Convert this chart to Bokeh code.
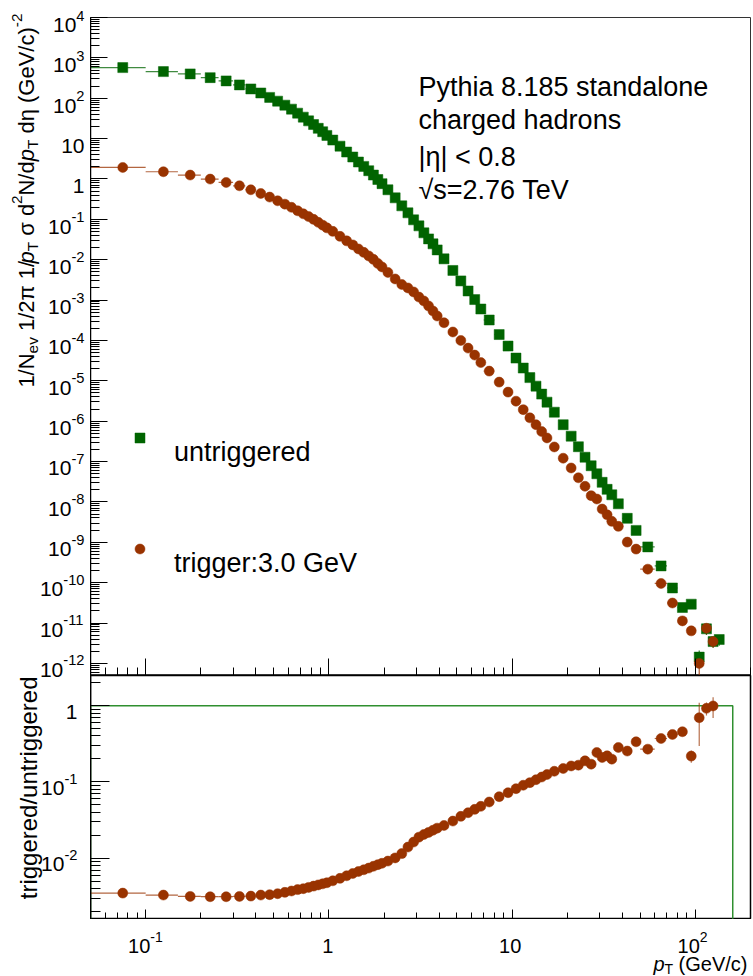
import math
from bokeh.plotting import figure
from bokeh.layouts import column, row
from bokeh.models import FixedTicker, Label, Legend, LegendItem, Range1d, CustomJSTickFormatter
from bokeh.embed import file_html
from bokeh.resources import INLINE

# ---------------- data ----------------
pt_edges = [0.05, 0.1, 0.15, 0.2, 0.25, 0.3, 0.35, 0.4, 0.45, 0.5, 0.55, 0.6, 0.65, 0.7, 0.75,
            0.8, 0.85, 0.9, 0.95, 1.0,
            1.1, 1.2, 1.3, 1.4, 1.5, 1.6, 1.7, 1.8, 1.9, 2.0,
            2.2, 2.4, 2.6, 2.8, 3.0, 3.2, 3.4, 3.6, 3.8, 4.0,
            4.5, 5.0, 5.5, 6.0, 6.5, 7.0,
            8, 9, 10, 11, 12, 13, 14, 15, 16,
            18, 20, 22, 24, 26, 28, 30, 32, 34, 36,
            40, 45, 50,
            60, 70, 80, 90, 100, 110, 120, 130, 140]

untriggered = [574, 457, 401, 324, 269, 214, 170, 135, 105, 84.7, 67.4, 53.7, 42.7, 34.0, 27.5,
               22.3, 18.0, 14.8, 12.0,
               9.2, 6.5, 4.65, 3.5, 2.63, 2.05, 1.6, 1.25, 0.97, 0.765,
               0.540, 0.341, 0.216, 0.145, 0.0972, 0.0690, 0.0463, 0.0328, 0.0247, 0.0175,
               0.0105, 0.00542, 0.00298, 0.00168, 0.00103, 6.01e-4,
               3.21e-4, 1.40e-4, 7.26e-5, 3.66e-5, 2.07e-5, 1.20e-5, 7.38e-6, 4.68e-6, 2.96e-6,
               1.67e-6, 8.18e-7, 4.25e-7, 2.33e-7, 1.28e-7, 7.87e-8, 4.98e-8, 3.06e-8, 2.05e-8, 1.50e-8,
               8.97e-9, 3.92e-9, 1.97e-9,
               7.69e-10, 2.60e-10, 7.38e-11, 2.42e-11, 2.93e-11, 1.43e-12, 7.18e-12, 3.47e-12, 3.90e-12]

triggered = [1.93, 1.51, 1.25, 0.994, 0.819, 0.678, 0.540, 0.437, 0.356, 0.288, 0.238, 0.199, 0.163,
             0.137, 0.117, 0.100, 0.0843, 0.0718, 0.0615,
             0.0504, 0.0379, 0.0293, 0.0233, 0.0185, 0.0152, 0.0124, 0.0102, 0.00809, 0.00662,
             0.00484, 0.00334, 0.00244, 0.00200, 0.00159, 0.00119, 9.50e-4, 7.14e-4, 5.37e-4, 4.03e-4,
             2.75e-4, 1.62e-4, 1.00e-4, 6.47e-5, 4.34e-5, 2.83e-5,
             1.74e-5, 9.29e-6, 5.25e-6, 3.13e-6, 1.93e-6, 1.21e-6, 8.19e-7, 5.55e-7, 3.85e-7,
             2.30e-7, 1.21e-7, 6.94e-8, 3.96e-8, 2.44e-8, 1.43e-8, 1.18e-8, 6.67e-9, 4.79e-9, 3.30e-9,
             2.48e-9, 1.01e-9, 6.78e-10,
             2.16e-10, 9.55e-11, 3.13e-11, 1.13e-11, 6.40e-12, 1.00e-12, 7.43e-12, 3.47e-12]

ratio = [3.49e-3, 3.29e-3, 3.16e-3, 3.13e-3, 3.13e-3, 3.16e-3, 3.19e-3, 3.29e-3, 3.33e-3, 3.43e-3,
         3.57e-3, 3.72e-3, 3.88e-3, 3.99e-3, 4.15e-3, 4.31e-3, 4.47e-3, 4.62e-3, 4.77e-3,
         5.06e-3, 5.45e-3, 5.89e-3, 6.31e-3, 6.70e-3, 7.06e-3, 7.43e-3, 7.85e-3, 8.24e-3, 8.59e-3,
         9.18e-3, 1.01e-2, 1.15e-2, 1.40e-2, 1.63e-2, 1.89e-2, 2.05e-2, 2.18e-2, 2.33e-2, 2.48e-2,
         2.69e-2, 3.07e-2, 3.54e-2, 3.95e-2, 4.37e-2, 4.79e-2,
         5.46e-2, 6.41e-2, 7.23e-2, 8.16e-2, 9.05e-2, 9.79e-2, 0.107, 0.116, 0.125,
         0.138, 0.150, 0.162, 0.166, 0.189, 0.171, 0.243, 0.209, 0.220, 0.199,
         0.283, 0.254, 0.336,
         0.269, 0.371, 0.419, 0.455, 0.218, 0.695, 0.922, 0.991]

# vertical error bars that are visible (high pT only)
untrig_err_pt = [85, 95, 105, 115, 125, 135]
untrig_err_rel = [0.10, 0.15, 0.45, 0.30, 0.30, 0.30]
trig_err_pt = [85, 95, 105, 115, 125]
trig_err_rel = [0.10, 0.15, 0.50, 0.30, 0.30]
ratio_err_pt = [85, 95, 105, 115, 125]
ratio_err = [0.025, 0.04, 0.40, 0.18, 0.30]

# reference histogram (untriggered / untriggered)
ref_edges = [0.05, 160.0]
ref_level = 1.0

# tick labels: (base, exponent)
top_y_ticks = [1e-12, 1e-11, 1e-10, 1e-9, 1e-8, 1e-7, 1e-6, 1e-5, 1e-4, 1e-3, 1e-2, 1e-1, 1, 10, 100, 1e3, 1e4]
top_y_labels = [("10", "-12"), ("10", "-11"), ("10", "-10"), ("10", "-9"), ("10", "-8"), ("10", "-7"),
                ("10", "-6"), ("10", "-5"), ("10", "-4"), ("10", "-3"), ("10", "-2"), ("10", "-1"),
                ("1", ""), ("10", ""), ("10", "2"), ("10", "3"), ("10", "4")]
x_ticks = [0.1, 1, 10, 100]
x_labels = [("10", "-1"), ("1", ""), ("10", ""), ("10", "2")]
ratio_y_ticks = [0.01, 0.1, 1]
ratio_y_labels = [("10", "-2"), ("10", "-1"), ("1", "")]

top_text = ["Pythia 8.185 standalone", "charged hadrons", "|η| < 0.8", "√s=2.76 TeV"]
legend_labels = ["untriggered", "trigger:3.0 GeV"]

# ---------------- style / geometry ----------------
FONT = "Liberation Sans"
GREEN = "#006400"
RED = "#993300"
REFGREEN = "#2f8f2f"

CW, CH = 753, 976           # canvas
LEFT = 90                    # width of the left label strip
FX0, FX1 = 90, 750           # frame x extent (canvas px)
TOP0, TOP1 = 17, 674         # top frame y extent
BOT0, BOT1 = 674, 917        # ratio frame y extent

W = {' ': .278, '!': .278, '(': .333, ')': .333, '-': .333, '.': .278, '/': .278, ':': .278,
     '<': .584, '=': .584, '|': .26, 'A': .667, 'G': .778, 'N': .722, 'P': .667, 'T': .611,
     'V': .667, 'a': .556, 'c': .5, 'd': .556, 'e': .556, 'g': .556, 'h': .556, 'i': .222,
     'l': .222, 'n': .556, 'o': .556, 'p': .556, 'r': .333, 's': .5, 't': .278, 'u': .556,
     'v': .5, 'y': .5, 'π': .57, 'σ': .6, 'η': .556, '√': .55}


def tw(s, size):
    return sum(W.get(c, 0.556) for c in s) * size


SCALE = {"": 1.0, "it": 1.0, "sub": 0.7, "sup": 0.7}
SHIFT = {"": 0.0, "it": 0.0, "sub": -0.28, "sup": 0.45}


def rich(fig, segs, ax, ay, dx, dy, size, align="left", rotate=False):
    """Mixed-style text at data anchor (ax, ay); (dx, dy) pixel shift (right, up) of the baseline."""
    widths = [tw(t, size * SCALE[k]) for t, k in segs]
    total = sum(widths)
    pos = {"left": 0.0, "center": -total / 2, "right": -total}[align]
    for (t, k), w in zip(segs, widths):
        fs = size * SCALE[k]
        lead = (len(t) - len(t.lstrip(" "))) * W[' '] * fs
        txt = t.strip(" ")
        along = pos + lead
        perp = SHIFT[k] * size
        if rotate:
            xo, yo, ang = dx - perp, dy + along, math.pi / 2
        else:
            xo, yo, ang = dx + along, dy + perp, 0.0
        if txt:
            fig.add_layout(Label(x=ax, y=ay, x_offset=xo, y_offset=yo, text=txt, angle=ang,
                                 text_font=FONT, text_font_size=f"{fs:.1f}px",
                                 text_font_style="italic" if k == "it" else "normal",
                                 text_align="left", text_baseline="alphabetic", text_color="black"))
        pos += w


def minor_list(lo_exp, hi_exp, lo, hi):
    out = []
    for e in range(lo_exp, hi_exp + 1):
        for m in range(2, 10):
            v = m * 10.0 ** e
            if lo <= v <= hi:
                out.append(v)
    return out


BLANK = CustomJSTickFormatter(code="return ' ';")


def style_axis(ax):
    ax.formatter = BLANK
    ax.major_label_text_font_size = "1px"
    ax.major_label_text_alpha = 0
    ax.major_label_standoff = 0
    ax.major_tick_out = 0
    ax.minor_tick_out = 0
    ax.axis_line_color = "black"
    ax.axis_line_width = 1.5
    ax.major_tick_line_color = "black"
    ax.minor_tick_line_color = "black"


def blank_fig(w, h, xr, yr):
    f = figure(width=w, height=h, x_range=Range1d(*xr), y_range=Range1d(*yr),
               x_axis_location=None, y_axis_location=None, output_backend="svg",
               toolbar_location=None, min_border=0, outline_line_color=None)
    f.grid.visible = False
    f.background_fill_color = "white"
    f.border_fill_color = "white"
    return f


centers = [(a + b) / 2 for a, b in zip(pt_edges[:-1], pt_edges[1:])]
lows = pt_edges[:-1]
highs = pt_edges[1:]

X0, X1 = 0.05, 200.0
Y0, Y1 = 10 ** -12.30, 1e4
R0, R1 = 10 ** -2.803, 10 ** 0.395


def cx(x):       # canvas x of a pT value
    return FX0 + (FX1 - FX0) * (math.log10(x) - math.log10(X0)) / (math.log10(X1) - math.log10(X0))


def cy1(y):      # canvas y (from top) in the spectrum panel
    return TOP0 + (TOP1 - TOP0) * (math.log10(Y1) - math.log10(y)) / (math.log10(Y1) - math.log10(Y0))


def cy2(y):      # canvas y (from top) in the ratio panel
    return BOT0 + (BOT1 - BOT0) * (math.log10(R1) - math.log10(y)) / (math.log10(R1) - math.log10(R0))


H1 = 675
H2 = 244
H3 = CH - H1 - H2
PW = CW - LEFT

# ---------------- top panel ----------------
p1 = figure(width=PW, height=H1, x_axis_type="log", y_axis_type="log",
            x_range=Range1d(X0, X1), y_range=Range1d(Y0, Y1),
            output_backend="svg", toolbar_location=None,
            min_border_left=0, min_border_right=3, min_border_top=17, min_border_bottom=0)
p1.grid.visible = False
p1.outline_line_color = "#333333"
p1.outline_line_width = 1
p1.background_fill_color = "white"
p1.border_fill_color = "white"

style_axis(p1.xaxis[0])
style_axis(p1.yaxis[0])
p1.xaxis[0].axis_line_color = None
p1.yaxis[0].ticker = FixedTicker(ticks=top_y_ticks, minor_ticks=minor_list(-13, 4, Y0, Y1))
p1.yaxis[0].major_tick_in = 17
p1.yaxis[0].minor_tick_in = 9
p1.xaxis[0].ticker = FixedTicker(ticks=x_ticks, minor_ticks=minor_list(-2, 2, X0, X1))
p1.xaxis[0].major_tick_in = 17
p1.xaxis[0].minor_tick_in = 8

n_g = len(untriggered)
n_r = len(triggered)
p1.segment(x0=lows[:n_g], x1=highs[:n_g], y0=untriggered, y1=untriggered,
           line_color=GREEN, line_width=1.2, line_alpha=0.75)
p1.segment(x0=lows[:n_r], x1=highs[:n_r], y0=triggered, y1=triggered,
           line_color=RED, line_width=1.2, line_alpha=0.75)


def vert_err(pts, rel, vals):
    xs, lo, hi = [], [], []
    for p, r in zip(pts, rel):
        i = min(range(len(vals)), key=lambda j: abs(centers[j] - p))
        xs.append(centers[i])
        lo.append(vals[i] * (1 - r))
        hi.append(vals[i] * (1 + r))
    return xs, lo, hi


gx, glo, ghi = vert_err(untrig_err_pt, untrig_err_rel, untriggered)
p1.segment(x0=gx, x1=gx, y0=glo, y1=ghi, line_color=GREEN, line_width=1.2, line_alpha=0.8)
rx, rlo, rhi = vert_err(trig_err_pt, trig_err_rel, triggered)
p1.segment(x0=rx, x1=rx, y0=rlo, y1=rhi, line_color=RED, line_width=1.2, line_alpha=0.8)

r_green = p1.scatter(x=centers[:n_g], y=untriggered, marker="square", size=10,
                     fill_color=GREEN, line_color=GREEN, line_width=0.5)
r_red = p1.scatter(x=centers[:n_r], y=triggered, marker="circle", size=10,
                   fill_color=RED, line_color=RED, line_width=0.5)

# legend: label text sits one half line below its marker, as in the reference
legend = Legend(items=[LegendItem(label="\n" + legend_labels[0], renderers=[r_green]),
                       LegendItem(label="\n" + legend_labels[1], renderers=[r_red])],
                location=(37, 95), orientation="vertical",
                glyph_width=25, glyph_height=25, label_height=64, spacing=47,
                label_standoff=22, padding=0, margin=0,
                border_line_color=None, background_fill_alpha=0,
                label_text_font=FONT, label_text_font_size="27px",
                label_text_line_height=1.1, label_text_color="black")
p1.add_layout(legend)

centres = [85, 118, 155, 188]
for i, t in enumerate(top_text):
    p1.add_layout(Label(x=418 - FX0, y=(TOP1 - TOP0) - (centres[i] - TOP0),
                        x_units="screen", y_units="screen",
                        text=t, text_font=FONT, text_font_size="27px", text_baseline="middle",
                        text_align="left", text_color="black"))

# ---------------- ratio panel ----------------
p2 = figure(width=PW, height=H2, x_axis_type="log", y_axis_type="log",
            x_range=Range1d(X0, X1), y_range=Range1d(R0, R1),
            output_backend="svg", toolbar_location=None,
            min_border_left=0, min_border_right=3, min_border_top=0, min_border_bottom=0)
p2.grid.visible = False
p2.outline_line_color = "black"
p2.outline_line_width = 1.5
p2.background_fill_color = "white"
p2.border_fill_color = "white"
style_axis(p2.xaxis[0])
style_axis(p2.yaxis[0])
p2.yaxis[0].ticker = FixedTicker(ticks=ratio_y_ticks, minor_ticks=minor_list(-3, 0, R0, R1))
p2.yaxis[0].major_tick_in = 19
p2.yaxis[0].minor_tick_in = 10
p2.xaxis[0].ticker = FixedTicker(ticks=x_ticks, minor_ticks=minor_list(-2, 2, X0, X1))
p2.xaxis[0].major_tick_in = 10
p2.xaxis[0].minor_tick_in = 7

p2.line(x=[ref_edges[0], ref_edges[0], ref_edges[1], ref_edges[1]],
        y=[R0, ref_level, ref_level, R0], line_color=REFGREEN, line_width=1.5)

n_q = len(ratio)
p2.segment(x0=lows[:n_q], x1=highs[:n_q], y0=ratio, y1=ratio,
           line_color=RED, line_width=1.2, line_alpha=0.75)
qx, qlo, qhi = [], [], []
for p, e in zip(ratio_err_pt, ratio_err):
    i = min(range(n_q), key=lambda j: abs(centers[j] - p))
    qx.append(centers[i]); qlo.append(ratio[i] - e); qhi.append(ratio[i] + e)
p2.segment(x0=qx, x1=qx, y0=qlo, y1=qhi, line_color=RED, line_width=1.2, line_alpha=0.7)
p2.scatter(x=centers[:n_q], y=ratio, marker="circle", size=10,
           fill_color=RED, line_color=RED, line_width=0.5)

# ---------------- label strips (left and bottom) ----------------
lf = blank_fig(LEFT, CH, (0, LEFT), (CH, 0))        # canvas pixel coordinates, y downward
bf = blank_fig(PW, H3, (LEFT, CW), (CH, CH - H3))

for v, (b, e) in zip(top_y_ticks, top_y_labels):
    segs = [(b, "")] + ([(e, "sup")] if e else [])
    rich(lf, segs, FX0, cy1(v), -6, -0.358 * 21, 21, align="right")

for v, (b, e) in zip(ratio_y_ticks, ratio_y_labels):
    segs = [(b, "")] + ([(e, "sup")] if e else [])
    rich(lf, segs, FX0, cy2(v), -13, -0.358 * 21, 21, align="right")

ytitle = [("1/N", ""), ("ev", "sub"), (" 1/2π 1/", ""), ("p", "it"), ("T", "sub"),
          (" σ d", ""), ("2", "sup"), ("N/d", ""), ("p", "it"), ("T", "sub"),
          (" dη (GeV/c)", ""), ("-2", "sup")]
rich(lf, ytitle, FX0, TOP0, -64, 4, 22, align="right", rotate=True)
rich(lf, [("triggered/untriggered", "")], FX0, BOT0, -62, -2, 24, align="right", rotate=True)

for v, (b, e) in zip(x_ticks, x_labels):
    segs = [(b, "")] + ([(e, "sup")] if e else [])
    rich(bf, segs, cx(v), BOT1, 0, -28, 20, align="center")

rich(bf, [("p", "it"), ("T", "sub"), (" (GeV/c)", "")], FX1, BOT1, 0, -46, 20, align="right")

layout = row(lf, column(p1, p2, bf, spacing=0), spacing=0)
open("out.html", "w").write(file_html(layout, INLINE))
